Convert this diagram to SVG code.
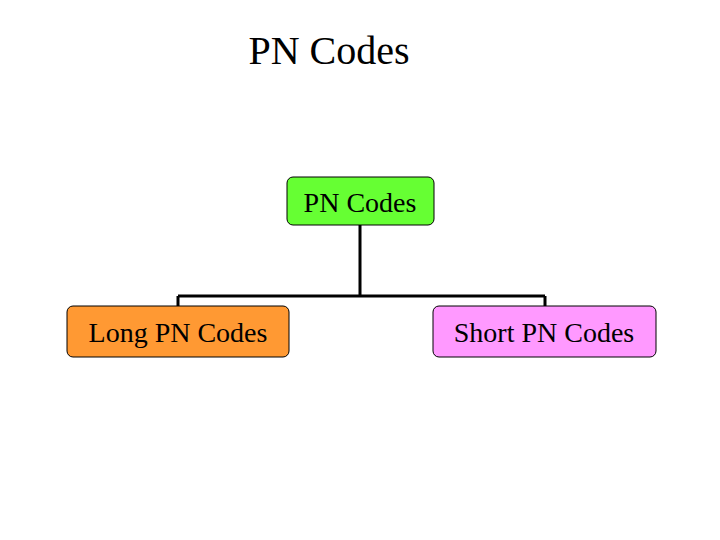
<svg xmlns="http://www.w3.org/2000/svg" width="720" height="540" viewBox="0 0 720 540">
<style>
text{font-family:"Liberation Serif",serif;fill:#000}
.n{stroke:#000;stroke-width:1}
.c{stroke:#000;stroke-width:3;fill:none}
</style>
<rect width="720" height="540" fill="#fff"/>
<text x="329" y="64" font-size="40" text-anchor="middle">PN Codes</text>
<g id="connectors">
<path class="c" d="M360 225V296M178 296H545M178 296V306M545 296V306"/>
</g>
<g id="root"><rect class="n" x="287" y="177" width="147" height="48" rx="6" fill="#66ff33"/>
<text x="360" y="212" font-size="28" text-anchor="middle">PN Codes</text></g>
<g id="long"><rect class="n" x="67" y="306" width="222" height="51" rx="6" fill="#ff9933"/>
<text x="178" y="342" font-size="28" text-anchor="middle">Long PN Codes</text></g>
<g id="short"><rect class="n" x="433" y="306" width="223" height="51" rx="6" fill="#ff99ff"/>
<text x="544" y="342" font-size="28" text-anchor="middle">Short PN Codes</text></g>
</svg>
